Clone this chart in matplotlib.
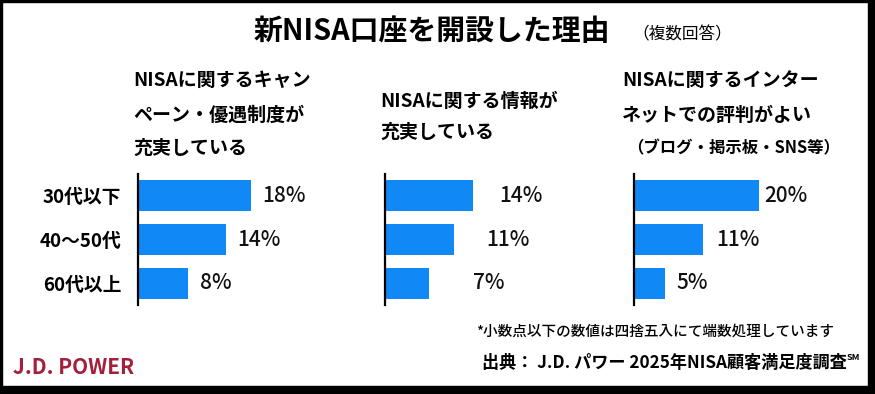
import matplotlib
matplotlib.use("Agg")
import matplotlib.pyplot as plt
from matplotlib.patches import Rectangle

plt.rcParams['font.family'] = ['Noto Sans CJK JP', 'DejaVu Sans']

# データ
groups = ["30代以下", "40〜50代", "60代以上"]
headings = [
    ["NISAに関するキャン", "ペーン・優遇制度が", "充実している"],
    ["NISAに関する情報が", "充実している"],
    ["NISAに関するインター", "ネットでの評判がよい"],
]
sub_note = "（ブログ・掲示板・SNS等）"
campaign = [18, 14, 8]
info = [14, 11, 7]
internet = [20, 11, 5]
values = [campaign, info, internet]

title = "新NISA口座を開設した理由"
title_note = "（複数回答）"
footnote = "*小数点以下の数値は四捨五入にて端数処理しています"
source = "出典： J.D. パワー 2025年NISA顧客満足度調査"

W, H = 875, 394
BLUE = "#1089f7"
RED = "#a3203a"

fig = plt.figure(figsize=(W / 100, H / 100), dpi=100)


def fx(x):
    return x / W


def fy(y):
    return 1 - y / H


# パネル位置 (px)
panel_left = [138, 385, 634]
label_gap = [[12, 12, 12], [27, 32, 44], [5, 13, 11]]
axes_top, axes_bot = 174, 305
px_per_pct = 6.25
ax_w = 200

for i, vals in enumerate(values):
    ax = fig.add_axes([fx(panel_left[i]), fy(axes_bot), ax_w / W, (axes_bot - axes_top) / H])
    ypos = list(range(len(groups)))
    ax.barh(ypos, vals, height=0.7, color=BLUE)
    ax.set_xlim(0, ax_w / px_per_pct)
    ax.set_ylim(2.49, -0.49)
    for s in ["top", "right", "bottom"]:
        ax.spines[s].set_visible(False)
    ax.spines["left"].set_linewidth(1.6)
    ax.set_xticks([])
    ax.set_yticks(ypos)
    if i == 0:
        ax.set_yticklabels(groups, fontsize=13.5, fontweight="bold")
        ax.tick_params(axis="y", length=0, pad=12)
    else:
        ax.set_yticklabels([])
        ax.tick_params(axis="y", length=0)
    for j, v in enumerate(vals):
        ax.text(v + label_gap[i][j] / px_per_pct, j, f"{v}%", va="center", ha="left",
                fontsize=15, fontweight="medium", color="#111111")

# タイトル
fig.text(fx(254), fy(31), title, fontsize=20.8, fontweight="bold", va="center", ha="left")
fig.text(fx(632), fy(35), title_note, fontsize=12, va="center", ha="left")

# 見出し
head_x = [133, 380, 622]
head_y = [[80, 115, 148], [101, 132], [80, 115]]
for i, lines in enumerate(headings):
    for line, y in zip(lines, head_y[i]):
        fig.text(fx(head_x[i]), fy(y), line, fontsize=13.7, va="center", ha="left",
                 fontweight="bold")
fig.text(fx(627), fy(148), sub_note, fontsize=11.8, va="center", ha="left", fontweight="bold")

# 注記・出典
fig.text(fx(476), fy(332), footnote, fontsize=10.5, va="center", ha="left", fontweight="medium")
fig.text(fx(847), fy(363), source, fontsize=12.3, va="center", ha="right", fontweight="bold")
fig.text(fx(847), fy(358), "SM", fontsize=6.5, va="center", ha="left", fontweight="bold")
fig.text(fx(13), fy(368), "J.D. POWER", fontsize=15, va="center", ha="left",
         fontweight="bold", color=RED)

# 枠線
for x0, y0, w, h in [(0, 0, W, 2), (0, 0, 2, H), (868, 0, 7, H), (0, 386, W, 8)]:
    fig.patches.append(Rectangle((fx(x0), fy(y0 + h)), w / W, h / H, transform=fig.transFigure,
                                 color="black", zorder=10))

fig.savefig("out.png", dpi=100, facecolor="white")
